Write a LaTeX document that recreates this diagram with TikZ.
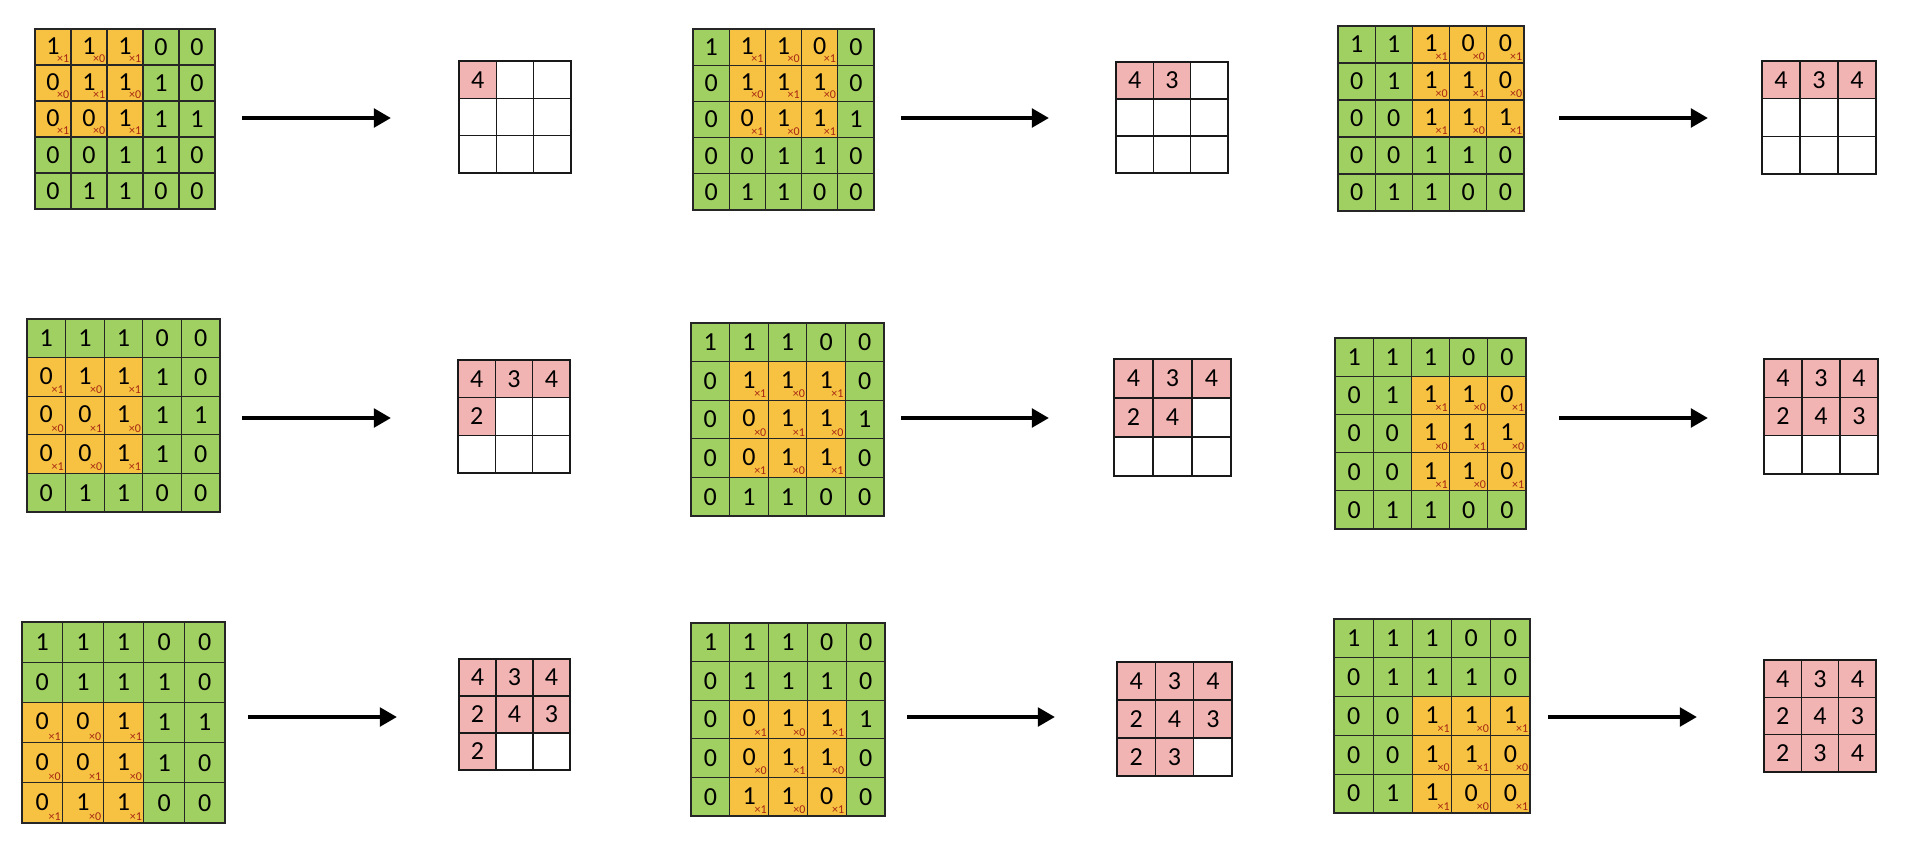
\documentclass[tikz,border=0pt]{standalone}
\usepackage{fontspec}
\setmainfont{Carlito}
\usetikzlibrary{arrows.meta}
\definecolor{cellgreen}{RGB}{160,207,98}
\definecolor{winorange}{RGB}{247,193,66}
\definecolor{outpink}{RGB}{242,179,179}
\definecolor{wred}{RGB}{165,38,18}
\tikzset{
    bigcell/.style={draw=black!85,line width=0.6pt,inner sep=0pt,font=\fontsize{13}{15}\selectfont},
    outcell/.style={bigcell,draw=black!90},
    weight/.style={wred,inner sep=0pt,font=\fontsize{6}{7}\selectfont},
    convarrow/.style={-{Triangle[length=8.6pt,width=9.2pt]},line width=2.2pt}
}
\def\kernelvals{{1,0,1,0,1,0,1,0,1}}
\def\outvals{4,3,4,2,4,3,2,3,4}
\begin{document}
\begin{tikzpicture}[x=0.5pt,y=-0.5pt]
\useasboundingbox (0,0) rectangle (1912,862);
% panel / big grid box / window / small grid box / filled / arrow
\foreach \p/\gl/\gt/\gr/\gb/\wr/\wc/\sl/\st/\sr/\sb/\n/\al/\ar/\ay in {
    1/35/29/215/209/0/0/459/61/571/173/1/242/391/118,
    2/693/29/874/210/0/1/1116/62/1228/173/2/901/1049/118,
    3/1338/26/1524/211/0/2/1762/61/1876/174/3/1559/1708/118,
    4/27/319/220/512/1/0/458/360/570/473/4/242/391/418,
    5/691/323/884/516/1/1/1114/359/1231/476/5/901/1049/418,
    6/1335/338/1526/529/1/2/1764/359/1878/474/6/1559/1708/418,
    7/22/622/225/823/2/0/459/659/570/770/7/248/397/717,
    8/691/623/885/816/2/1/1117/662/1232/776/8/907/1055/717,
    9/1334/619/1530/813/2/2/1764/660/1876/772/9/1548/1697/717}{
  \pgfmathsetmacro\cw{(\gr-\gl)/5}
  \pgfmathsetmacro\ch{(\gb-\gt)/5}
  \foreach \rowvals [count=\r from 0] in {{1,1,1,0,0},{0,1,1,1,0},{0,0,1,1,1},{0,0,1,1,0},{0,1,1,0,0}}{
    \foreach \v [count=\c from 0] in \rowvals {
      \pgfmathtruncatemacro\dr{\r-\wr}
      \pgfmathtruncatemacro\dc{\c-\wc}
      \pgfmathtruncatemacro\inwin{(\dr>=0)&&(\dr<3)&&(\dc>=0)&&(\dc<3)}
      \ifnum\inwin=1
        \node[bigcell,fill=winorange,minimum width=\cw*0.5pt,minimum height=\ch*0.5pt]
          (b\p-\r-\c) at ({\gl+(\c+0.5)*\cw},{\gt+(\r+0.5)*\ch}) {\raisebox{1pt}{\v}\hspace{2pt}};
        \pgfmathtruncatemacro\kw{\kernelvals[3*\dr+\dc]}
        \node[weight,anchor=base east] (w\p-\r-\c) at ({\gl+(\c+1)*\cw-1.5},{\gt+(\r+1)*\ch-2.5}) {×\kw};
      \else
        \node[bigcell,fill=cellgreen,minimum width=\cw*0.5pt,minimum height=\ch*0.5pt]
          (b\p-\r-\c) at ({\gl+(\c+0.5)*\cw},{\gt+(\r+0.5)*\ch}) {\v};
      \fi
    }
  }
  \pgfmathsetmacro\sw{(\sr-\sl)/3}
  \pgfmathsetmacro\sh{(\sb-\st)/3}
  \foreach \o [count=\k from 0] in \outvals {
    \pgfmathtruncatemacro\orow{int(\k/3)}
    \pgfmathtruncatemacro\ocol{mod(\k,3)}
    \ifnum\k<\n
      \node[outcell,fill=outpink,minimum width=\sw*0.5pt,minimum height=\sh*0.5pt]
        (o\p-\k) at ({\sl+(\ocol+0.5)*\sw},{\st+(\orow+0.5)*\sh}) {\o};
    \else
      \node[outcell,fill=white,minimum width=\sw*0.5pt,minimum height=\sh*0.5pt]
        (o\p-\k) at ({\sl+(\ocol+0.5)*\sw},{\st+(\orow+0.5)*\sh}) {};
    \fi
  }
  \coordinate (s\p) at (\al,\ay);
  \coordinate (e\p) at (\ar,\ay);
  \draw[convarrow] (s\p) -- (e\p);
}
\end{tikzpicture}
\end{document}
